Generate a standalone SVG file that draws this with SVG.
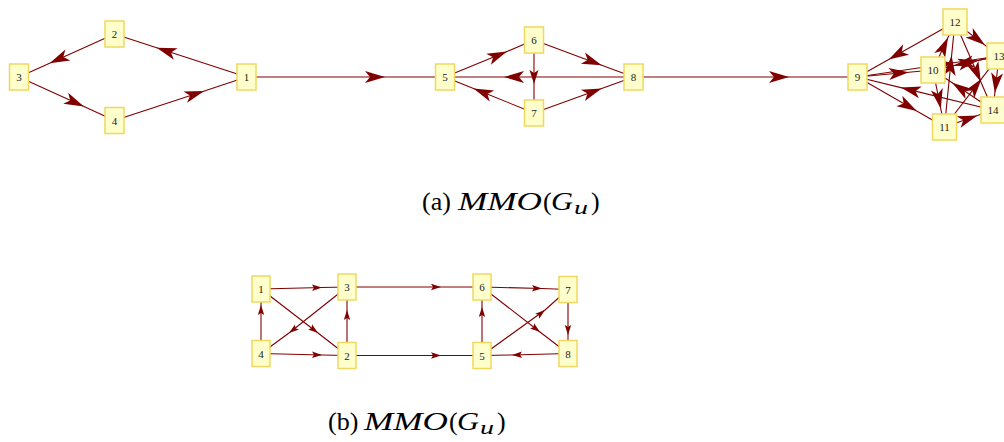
<svg xmlns="http://www.w3.org/2000/svg" width="1004" height="442" viewBox="0 0 1004 442">
<style>
.e{fill:none;stroke:#800000;stroke-width:1.1}
.a{marker-mid:url(#ah)}
.m{marker-mid:url(#ahm)}
.s{marker-mid:url(#ahs)}
.n rect{fill:#ffffcc;stroke:#f0d860;stroke-width:1.5}
.n text{font-family:"Liberation Serif","DejaVu Serif",serif;font-size:11px;fill:#222;text-anchor:middle}
.cap{font-family:"Liberation Serif","DejaVu Serif",serif;font-size:26px;fill:#000}
.i{font-style:italic}
</style>
<defs>
<marker id="ah" viewBox="-21 -7 22 14" markerWidth="22" markerHeight="14" refX="0" refY="0" orient="auto" markerUnits="userSpaceOnUse"><path d="M0,0 L-20,-6 L-15,0 L-20,6 Z" fill="#800000"/></marker>
<marker id="ahm" viewBox="-15 -5 16 10" markerWidth="16" markerHeight="10" refX="0" refY="0" orient="auto" markerUnits="userSpaceOnUse"><path d="M0,0 L-14,-4.5 L-11,0 L-14,4.5 Z" fill="#800000"/></marker>
<marker id="ahs" viewBox="-11 -4 12 8" markerWidth="12" markerHeight="8" refX="0" refY="0" orient="auto" markerUnits="userSpaceOnUse"><path d="M0,0 L-10,-3.2 L-8,0 L-10,3.2 Z" fill="#800000"/></marker>
</defs>
<g id="connectors">
<path class="e a" d="M246.5 77 L156.7 47.8 L114.5 34"/>
<path class="e a" d="M114.5 34 L49.6 63.2 L19 77"/>
<path class="e a" d="M19 77 L83.9 106.6 L114.5 120.5"/>
<path class="e a" d="M114.5 120.5 L204.3 90.9 L246.5 77"/>
<path class="e a" d="M246.5 77 L385 77 L445 77"/>
<path class="e a" d="M445 77 L507 51.5 L534 40"/>
<path class="e a" d="M534 40 L601.7 65.2 L633.5 77"/>
<path class="e m" d="M534 40 L534 84 L534 113"/>
<path class="e a" d="M633.5 77 L504 77 L445 77"/>
<path class="e a" d="M534 113 L473.5 88.5 L445 77"/>
<path class="e a" d="M534 113 L601.7 88.5 L633.5 77"/>
<path class="e a" d="M633.5 77 L789 77 L857.5 77"/>
<path class="e a" d="M955 22 L888.7 59.4 L857.5 77"/>
<path class="e a" d="M857.5 77 L908.8 72.2 L933 70"/>
<path class="e a" d="M857.5 77 L953.7 62.7 L999 56"/>
<path class="e a" d="M993 110 L900.9 87.6 L857.5 77"/>
<path class="e a" d="M857.5 77 L916.7 111 L944.5 127"/>
<path class="e a" d="M933 70 L948 37.4 L955 22"/>
<path class="e a" d="M944.5 127 L951.6 55.6 L955 22"/>
<path class="e a" d="M955 22 L984.9 45.1 L999 56"/>
<path class="e a" d="M955 22 L980.8 81.8 L993 110"/>
<path class="e a" d="M999 56 L954.1 65.5 L933 70"/>
<path class="e a" d="M933 70 L977.9 60.5 L999 56"/>
<path class="e a" d="M999 56 L994.9 92.7 L993 110"/>
<path class="e a" d="M933 70 L940.8 108.8 L944.5 127"/>
<path class="e a" d="M993 110 L952.2 82.8 L933 70"/>
<path class="e a" d="M944.5 127 L981.6 78.7 L999 56"/>
<path class="e a" d="M944.5 127 L977.5 115.4 L993 110"/>
<path class="e s" d="M261 289 L322 287.5 L347 287"/>
<path class="e s" d="M261 289 L318 333 L347 355.5"/>
<path class="e s" d="M347 287 L289 333 L261 353.5"/>
<path class="e s" d="M261 353.5 L261 305 L261 289"/>
<path class="e s" d="M261 353.5 L322 355 L347 355.5"/>
<path class="e s" d="M347 355.5 L347 310 L347 287"/>
<path class="e s" d="M347 287 L441 287 L482 287"/>
<path class="e s" d="M347 355.5 L441 355.5 L482 355.5"/>
<path class="e s" d="M482 287 L542 288.5 L568 289.5"/>
<path class="e s" d="M482 287 L540 332 L568 353.5"/>
<path class="e s" d="M482 355.5 L545 310 L568 289.5"/>
<path class="e s" d="M482 355.5 L482 307 L482 287"/>
<path class="e s" d="M568 289.5 L568 335 L568 353.5"/>
<path class="e s" d="M568 353.5 L512 355 L482 355.5"/>
</g>
<g id="a1" class="n"><rect x="237" y="64" width="19" height="26"/><text x="246.5" y="81">1</text></g>
<g id="a2" class="n"><rect x="105" y="21" width="19" height="26"/><text x="114.5" y="38">2</text></g>
<g id="a3" class="n"><rect x="9.5" y="64" width="19" height="26"/><text x="19" y="81">3</text></g>
<g id="a4" class="n"><rect x="105" y="107.5" width="19" height="26"/><text x="114.5" y="124.5">4</text></g>
<g id="a5" class="n"><rect x="435.5" y="64" width="19" height="26"/><text x="445" y="81">5</text></g>
<g id="a6" class="n"><rect x="524.5" y="27" width="19" height="26"/><text x="534" y="44">6</text></g>
<g id="a7" class="n"><rect x="524.5" y="100" width="19" height="26"/><text x="534" y="117">7</text></g>
<g id="a8" class="n"><rect x="624" y="64" width="19" height="26"/><text x="633.5" y="81">8</text></g>
<g id="a9" class="n"><rect x="848" y="64" width="19" height="26"/><text x="857.5" y="81">9</text></g>
<g id="a12" class="n"><rect x="943" y="9" width="24" height="26"/><text x="955" y="26">12</text></g>
<g id="a13" class="n"><rect x="987" y="43" width="24" height="26"/><text x="999" y="60">13</text></g>
<g id="a10" class="n"><rect x="921" y="57" width="24" height="26"/><text x="933" y="74">10</text></g>
<g id="a14" class="n"><rect x="981" y="97" width="24" height="26"/><text x="993" y="114">14</text></g>
<g id="a11" class="n"><rect x="932.5" y="114" width="24" height="26"/><text x="944.5" y="131">11</text></g>
<g id="b1" class="n"><rect x="252" y="276" width="18" height="26"/><text x="261" y="293">1</text></g>
<g id="b2" class="n"><rect x="338" y="342.5" width="18" height="26"/><text x="347" y="359.5">2</text></g>
<g id="b3" class="n"><rect x="338" y="274" width="18" height="26"/><text x="347" y="291">3</text></g>
<g id="b4" class="n"><rect x="252" y="340.5" width="18" height="26"/><text x="261" y="357.5">4</text></g>
<g id="b5" class="n"><rect x="473" y="342.5" width="18" height="26"/><text x="482" y="359.5">5</text></g>
<g id="b6" class="n"><rect x="473" y="274" width="18" height="26"/><text x="482" y="291">6</text></g>
<g id="b7" class="n"><rect x="559" y="276.5" width="18" height="26"/><text x="568" y="293.5">7</text></g>
<g id="b8" class="n"><rect x="559" y="340.5" width="18" height="26"/><text x="568" y="357.5">8</text></g>
<g id="caption-a">
<text class="cap" y="210"><tspan x="422">(a)</tspan><tspan class="i" x="458" textLength="84" lengthAdjust="spacingAndGlyphs">MMO</tspan><tspan x="543">(</tspan><tspan class="i" x="551" textLength="22" lengthAdjust="spacingAndGlyphs">G</tspan><tspan class="i" x="574" dy="4" font-size="18" textLength="14" lengthAdjust="spacingAndGlyphs">u</tspan><tspan x="591" dy="-4">)</tspan></text>
</g>
<g id="caption-b">
<text class="cap" y="430"><tspan x="328">(b)</tspan><tspan class="i" x="364" textLength="84" lengthAdjust="spacingAndGlyphs">MMO</tspan><tspan x="449">(</tspan><tspan class="i" x="457" textLength="22" lengthAdjust="spacingAndGlyphs">G</tspan><tspan class="i" x="480" dy="4" font-size="18" textLength="14" lengthAdjust="spacingAndGlyphs">u</tspan><tspan x="497" dy="-4">)</tspan></text>
</g>
</svg>
